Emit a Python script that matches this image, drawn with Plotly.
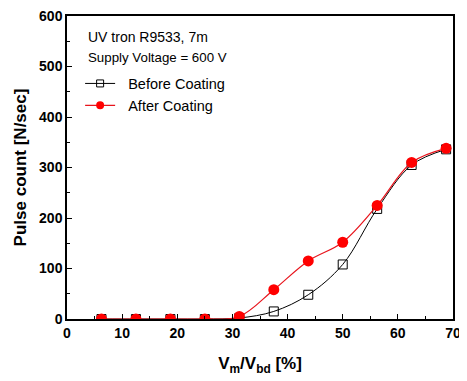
import plotly.graph_objects as go

x_vals = [6.25, 12.5, 18.75, 25, 31.25, 37.5, 43.75, 50, 56.25, 62.5, 68.75]
before = [0, 0, 0, 0, 2, 15, 48, 108, 218, 305, 336]
after = [0, 0, 0, 0, 5, 58, 115, 152, 225, 310, 338]

FONT = "Liberation Sans, Arial, sans-serif"
BLACK = "black"
RED = "#ff0000"
NB = "\u00a0\u00a0"

fig = go.Figure()
fig.add_trace(go.Scatter(
    x=x_vals, y=before, name="Before Coating", mode="lines+markers", showlegend=False,
    line=dict(color=BLACK, width=1, shape="spline"),
    marker=dict(symbol="square-open", size=9, color=BLACK, line=dict(width=1)),
))
fig.add_trace(go.Scatter(
    x=x_vals, y=after, name="After Coating", mode="lines+markers", showlegend=False,
    line=dict(color="#e8141c", width=1.2, shape="spline"),
    marker=dict(symbol="circle", size=11, color=RED),
))
# legend entries (smaller symbols as in the reference legend)
fig.add_trace(go.Scatter(
    x=[None], y=[None], name=NB + "Before Coating", mode="lines+markers",
    line=dict(color=BLACK, width=1),
    marker=dict(symbol="square-open", size=7, color=BLACK, line=dict(width=1)),
))
fig.add_trace(go.Scatter(
    x=[None], y=[None], name=NB + "After Coating", mode="lines+markers",
    line=dict(color="#e8141c", width=1.2),
    marker=dict(symbol="circle", size=8, color=RED),
))

axis_common = dict(
    showgrid=False, zeroline=False, showline=True, linecolor=BLACK, linewidth=1.5,
    mirror=True, ticks="inside", ticklen=5, tickwidth=1.2, tickcolor=BLACK,
    automargin=False, ticklabeloverflow="allow",
    tickfont=dict(family=FONT, size=14, color=BLACK, weight="bold"),
)

# the page body adds an 8px offset; compensate so the plot sits where the reference has it
fig.update_layout(
    width=459, height=373,
    margin=dict(l=59, r=14, t=8, b=62),
    paper_bgcolor="white", plot_bgcolor="white",
    font=dict(family=FONT, color=BLACK),
    showlegend=True,
    legend=dict(x=0.034, y=0.83, xanchor="left", yanchor="top",
                font=dict(family=FONT, size=14.5, color=BLACK),
                bgcolor="rgba(0,0,0,0)", tracegroupgap=0, itemwidth=30),
    xaxis=dict(range=[0, 70], tickvals=[0, 10, 20, 30, 40, 50, 60, 70],
               minor=dict(tickvals=[5, 15, 25, 35, 45, 55, 65], ticks="inside", ticklen=3, tickcolor=BLACK),
               title=dict(text="V<sub>m</sub>/V<sub>bd</sub> [%]", font=dict(family=FONT, size=17, weight="bold"), standoff=18),
               **axis_common),
    yaxis=dict(range=[0, 600], tickvals=[0, 100, 200, 300, 400, 500, 600],
               minor=dict(tickvals=[50, 150, 250, 350, 450, 550], ticks="inside", ticklen=3, tickcolor=BLACK),
               title=dict(text="Pulse count [N/sec]", font=dict(family=FONT, size=17, weight="bold"), standoff=8),
               **axis_common),
    annotations=[
        dict(x=0.05, y=0.965, xref="paper", yref="paper", xanchor="left", yanchor="top",
             text="UV tron R9533, 7m", showarrow=False, font=dict(family=FONT, size=14, color=BLACK)),
        dict(x=0.05, y=0.895, xref="paper", yref="paper", xanchor="left", yanchor="top",
             text="Supply Voltage = 600 V", showarrow=False, font=dict(family=FONT, size=13.3, color=BLACK)),
    ],
)

fig.write_html("out.html")
